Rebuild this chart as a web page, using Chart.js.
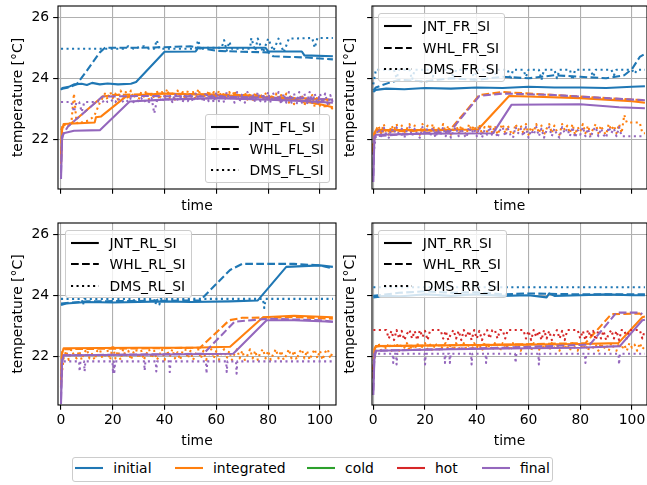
<!DOCTYPE html>
<html><head><meta charset="utf-8">
<script src="https://cdn.jsdelivr.net/npm/chart.js@4.4.0/dist/chart.umd.min.js"></script>
<style>
body{margin:0;width:647px;height:485px;overflow:hidden;background:#fff;font-family:"DejaVu Sans",sans-serif;position:relative;}
canvas{position:absolute;}
.lg{position:absolute;border:1px solid #cccccc;border-radius:3px;background:rgba(255,255,255,0.8);box-sizing:border-box;}
.lt{position:absolute;font-size:13.9px;line-height:16px;white-space:nowrap;color:#000;}
svg{position:absolute;overflow:visible;}
</style></head><body>
<script>
// ---------- labels / ticks ----------
const xTicks = [0,20,40,60,80,100];
const yTicks = [22,24,26];
const seriesNames = ['initial','integrated','cold','hot','final'];
const seriesColors = ['#1f77b4','#ff7f0e','#2ca02c','#d62728','#9467bd'];
const sensorNames = ['JNT','WHL','DMS'];
const cornerNames = ['FL','FR','RL','RR'];
const xTitle = 'time';
const yTitle = 'temperature [°C]';

// shared time grid (1 unit) for the noisy sensor traces
const tGrid = [0,1,2,3,4,5,6,7,8,9,10,11,12,13,14,15,16,17,18,19,
  20,21,22,23,24,25,26,27,28,29,30,31,32,33,34,35,36,37,38,39,
  40,41,42,43,44,45,46,47,48,49,50,51,52,53,54,55,56,57,58,59,
  60,61,62,63,64,65,66,67,68,69,70,71,72,73,74,75,76,77,78,79,
  80,81,82,83,84,85,86,87,88,89,90,91,92,93,94,95,96,97,98,99,
  100,101,102,103,104,105];

// ---------- FL ----------
const FL_initial_JNT = [[0,23.62],[0.5,23.68],[3,23.72],[5,23.8],[8,23.82],[10,23.78],[12,23.85],[15,23.8],[18,23.83],[22,23.8],[27,23.82],[29,23.88],[40,24.87],[52,24.88],[53,25.0],[79,25.0],[80,24.88],[93,24.88],[94,24.75],[105,24.72]];
const FL_initial_WHL = [[0,23.65],[3,23.7],[6,23.8],[10,24.25],[15,24.85],[17,25.0],[30,25.0],[40,25.02],[50,25.05],[55,24.98],[60,24.9],[70,24.87],[80,24.85],[82,24.72],[95,24.68],[105,24.62]];
const FL_initial_DMS = [[0,24.97],[24,24.97],[26,25.05],[28,24.97],[32,25.05],[34,24.97],[36,24.97],[37,25.25],[38,24.97],[52,24.97],[53,25.25],[54,24.9],[55,25.0],[62,25.0],[63,25.25],[64,24.9],[65,25.2],[66,24.97],[73,24.97],[73.5,25.32],[75,24.9],[76,25.3],[78,24.85],[80,25.3],[82,24.9],[84,25.3],[86,24.85],[88,25.3],[97,25.32],[98,25.0],[99,25.32],[105,25.32]];
const FL_integrated_JNT = [[0,21.2],[0.4,22.3],[1,22.5],[13,22.55],[13.5,22.72],[15.5,22.75],[25,23.4],[30,23.45],[40,23.5],[60,23.45],[75,23.4],[90,23.3],[100,23.15],[105,23.05]];
const FL_integrated_WHL = [[0,21.5],[0.4,22.4],[3,22.45],[16,23.4],[20,23.45],[40,23.5],[70,23.45],[90,23.35],[105,23.3]];
const FL_integrated_DMS = [22.3,22.45,22.5,22.5,22.55,23.5,22.55,22.5,22.55,22.6,
  22.6,22.65,22.7,22.8,23.0,23.2,23.35,23.5,23.3,23.55,
  23.35,23.5,23.3,23.6,23.4,23.55,23.3,23.6,23.35,23.5,
  23.3,23.55,23.4,23.6,23.3,23.5,23.35,23.6,23.3,23.55,
  23.4,23.65,23.35,23.5,23.3,23.6,23.4,23.55,23.3,23.6,
  23.35,23.55,23.3,23.65,23.4,23.5,23.3,23.6,23.35,23.55,
  23.3,23.6,23.4,23.5,23.3,23.55,23.35,23.6,23.3,23.5,
  23.35,23.55,23.3,23.5,23.25,23.55,23.35,23.5,23.3,23.5,
  23.25,23.45,23.3,23.5,23.2,23.45,23.3,23.5,23.2,23.45,
  23.15,23.4,23.25,23.45,23.1,23.4,23.2,23.45,23.05,23.4,
  23.1,23.35,23.0,23.3,23.05,23.0];
const FL_final_JNT = [[0,20.7],[0.4,22.0],[1,22.2],[5,22.28],[15,22.3],[26.5,23.24],[40,23.3],[60,23.35],[80,23.3],[95,23.25],[105,23.2]];
const FL_final_WHL = [[0,20.9],[0.4,22.1],[2.7,22.42],[16,23.4],[30,23.42],[60,23.4],[90,23.35],[105,23.3]];
const FL_final_DMS = [23.22,23.22,23.22,23.22,23.22,22.9,23.22,23.22,22.9,23.22,
  23.22,23.22,23.22,23.22,23.25,23.22,23.22,23.3,23.22,23.22,
  23.3,23.22,23.35,23.22,23.25,23.3,23.22,23.35,23.22,23.3,
  23.25,23.35,23.22,23.3,23.22,23.35,22.85,23.25,23.35,23.22,
  23.4,23.25,23.45,23.22,23.5,23.3,23.4,23.22,23.5,23.25,
  23.45,23.22,23.5,23.3,23.45,23.22,23.55,23.25,23.5,23.2,
  23.55,23.25,23.5,23.2,23.55,23.3,23.45,23.2,23.55,23.25,
  23.5,23.2,23.55,23.3,23.5,23.2,23.55,23.25,23.5,23.2,
  23.55,23.2,23.5,23.25,23.55,23.15,23.5,23.2,23.55,23.2,
  23.5,23.15,23.55,23.2,23.5,23.15,23.55,23.2,23.5,23.15,
  23.5,23.2,23.5,23.15,23.45,23.2];

// ---------- FR ----------
const FR_initial_JNT = [[0,23.55],[1,23.62],[5,23.66],[12,23.64],[20,23.68],[30,23.66],[40,23.7],[50,23.68],[60,23.72],[70,23.7],[80,23.7],[90,23.68],[100,23.72],[105,23.74]];
const FR_initial_WHL = [[0,23.6],[1,23.7],[6,23.85],[10,23.95],[20,23.9],[30,24.0],[40,23.95],[50,24.05],[60,24.0],[70,24.1],[80,24.05],[90,24.0],[97,24.1],[100,24.3],[103,24.7],[105,24.8]];
const FR_initial_DMS = [[0,23.8],[1,24.28],[8,24.28],[9,24.0],[10,24.28],[14,24.28],[15,23.95],[16,24.28],[22,24.28],[23,24.05],[24,24.28],[30,24.28],[31,24.0],[32,24.28],[38,24.28],[39,23.95],[40,24.28],[46,24.28],[47,24.1],[48,24.28],[52,24.28],[53,23.95],[54,24.28],[58,24.28],[59,24.05],[60,24.28],[64,24.28],[65,23.95],[66,24.28],[70,24.28],[71,24.0],[72,24.28],[76,24.28],[77,23.95],[78,24.28],[84,24.28],[85,24.05],[86,24.28],[92,24.28],[93,24.1],[94,24.28],[100,24.28],[101,24.15],[102,24.28],[105,24.28]];
const FR_integrated_JNT = [[0,21.5],[0.4,22.2],[1,22.3],[20,22.3],[40.5,22.32],[52.5,23.42],[60,23.4],[80,23.35],[100,23.25],[105,23.2]];
const FR_integrated_WHL = [[0,21.6],[0.4,22.25],[29.6,22.3],[41,23.45],[50,23.55],[70,23.45],[90,23.35],[105,23.28]];
const FR_integrated_DMS = [21.8,22.3,22.45,22.2,22.5,22.25,22.15,22.45,22.3,22.5,
  22.2,22.45,22.15,22.35,22.5,22.2,22.45,22.25,22.15,22.5,
  22.3,22.45,22.2,22.5,22.15,22.4,22.25,22.5,22.2,22.45,
  22.15,22.35,22.5,22.2,22.45,22.25,22.15,22.5,22.3,22.45,
  22.2,22.5,22.15,22.4,22.25,22.5,22.2,22.45,22.15,22.35,
  22.5,22.2,22.45,22.25,22.15,22.5,22.3,22.45,22.2,22.5,
  22.15,22.4,22.25,22.5,22.2,22.45,22.15,22.35,22.5,22.2,
  22.45,22.25,22.15,22.5,22.3,22.45,22.2,22.5,22.15,22.4,
  22.25,22.5,22.2,22.45,22.15,22.35,22.5,22.2,22.45,22.25,
  22.15,22.5,22.3,22.45,22.2,22.5,22.2,22.8,22.55,22.55,
  22.55,22.55,22.55,22.55,22.2,22.2];
const FR_final_JNT = [[0,20.6],[0.4,22.0],[1,22.15],[20,22.18],[46.3,22.2],[53.4,23.13],[80,23.15],[95,23.05],[105,23.02]];
const FR_final_WHL = [[0,20.8],[0.4,22.1],[29.6,22.25],[41,23.42],[50,23.5],[70,23.45],[90,23.35],[105,23.28]];
const FR_final_DMS = [21.5,22.1,22.35,22.1,22.4,22.15,22.05,22.35,22.2,22.4,
  22.1,22.35,22.05,22.3,22.4,22.1,22.35,22.15,22.05,22.4,
  22.2,22.35,22.1,22.4,22.05,22.3,22.15,22.4,22.1,22.35,
  22.05,22.3,22.4,22.1,22.35,22.15,22.05,22.4,22.2,22.35,
  22.1,22.4,22.05,22.3,22.15,22.4,22.1,22.35,22.05,22.3,
  22.4,22.1,22.35,22.15,22.05,22.4,22.2,22.35,22.1,22.4,
  22.05,22.3,22.15,22.4,22.1,22.35,22.05,22.3,22.4,22.1,
  22.35,22.15,22.05,22.4,22.2,22.35,22.1,22.4,22.05,22.3,
  22.15,22.4,22.1,22.35,22.05,22.3,22.4,22.1,22.35,22.15,
  22.05,22.4,22.2,22.35,22.1,22.4,22.1,22.1,22.1,22.1,
  22.1,22.1,22.1,22.1,22.1,22.1];

// ---------- RL ----------
const RL_initial_JNT = [[0,23.7],[2,23.75],[10,23.8],[20,23.78],[30,23.8],[40,23.82],[50,23.8],[65,23.82],[76,23.85],[87,24.95],[100,25.0],[105,24.95]];
const RL_initial_WHL = [[0,23.75],[10,23.82],[53.7,23.85],[65.3,24.85],[70,25.05],[90,25.05],[100,25.0],[105,24.9]];
const RL_initial_DMS = [[0,23.9],[8,23.9],[8.5,23.7],[9,23.9],[28,23.9],[28.5,23.75],[29,23.9],[36,23.9],[36.5,23.72],[37,23.9],[38,23.72],[38.5,23.9],[78,23.9],[78.5,23.6],[79,23.9],[105,23.9]];
const RL_integrated_JNT = [[0,21.0],[0.4,22.1],[1,22.28],[30,22.3],[50,22.3],[65.3,22.33],[78,23.3],[90,23.35],[105,23.3]];
const RL_integrated_WHL = [[0,21.2],[0.4,22.15],[1,22.25],[53.7,22.3],[65,23.2],[70,23.28],[90,23.3],[105,23.25]];
const RL_integrated_DMS = [21.2,21.95,22.2,21.9,22.25,22.05,21.95,22.2,21.9,22.15,
  22.25,21.95,22.1,21.9,22.2,22.25,21.95,22.05,22.2,21.9,
  22.4,21.95,22.2,21.9,22.25,22.0,22.2,21.9,22.15,22.25,
  21.95,22.2,21.9,22.1,22.25,21.95,22.2,21.9,22.05,22.25,
  21.9,22.2,22.0,22.25,21.95,22.15,21.9,22.2,22.25,21.95,
  22.2,21.9,22.1,22.25,21.95,22.2,21.9,22.05,22.25,21.95,
  22.2,21.9,22.15,22.25,21.95,22.2,21.9,22.1,22.25,21.95,
  22.2,21.9,22.05,22.25,21.95,22.2,21.9,22.15,22.25,21.95,
  22.2,21.9,22.1,22.25,21.95,22.2,21.9,22.05,22.25,21.95,
  22.2,21.9,22.15,22.25,21.95,22.2,21.9,22.1,22.25,21.95,
  22.2,21.9,22.15,22.25,21.95,22.2];
const RL_final_JNT = [[0,20.45],[0.4,21.8],[1,22.05],[30,22.07],[66.5,22.1],[79.4,23.2],[90,23.2],[105,23.15]];
const RL_final_WHL = [[0,20.6],[0.4,21.9],[1,22.05],[55,22.1],[67,23.15],[80,23.25],[100,23.2],[105,23.15]];
const RL_final_DMS = [[0,21.0],[0.4,21.85],[7,21.85],[7.2,21.52],[7.5,21.85],[8.9,21.85],[9.1,21.52],[9.4,21.85],[19.9,21.85],[20.1,21.45],[20.4,21.85],[20.6,21.5],[20.9,21.85],[32.1,21.85],[32.3,21.55],[32.6,21.85],[36.6,21.85],[36.8,21.52],[37.1,21.85],[41.8,21.85],[42,21.5],[42.3,21.85],[56,21.85],[56.2,21.45],[56.5,21.85],[63.8,21.85],[64,21.5],[64.3,21.85],[67.6,21.85],[67.8,21.45],[68.1,21.85],[105,21.85]];

// ---------- RR ----------
const RR_initial_JNT = [[0,23.95],[5,24.0],[10,23.98],[20,24.05],[30,24.0],[40,24.05],[50,24.0],[60,24.02],[67,23.95],[68,24.08],[70,24.0],[80,24.02],[90,24.05],[100,24.02],[105,24.02]];
const RR_initial_WHL = [[0,24.0],[10,24.1],[20,24.15],[30,24.1],[40,24.12],[50,24.05],[60,24.08],[80,24.05],[105,24.05]];
const RR_initial_DMS = [[0,24.28],[105,24.28]];
const RR_integrated_JNT = [[0,21.3],[0.4,22.2],[1,22.35],[30,22.38],[60,22.4],[80,22.42],[94.7,22.45],[104,23.3],[105,23.32]];
const RR_integrated_WHL = [[0,21.5],[0.4,22.25],[1,22.35],[50,22.4],[82,22.45],[92,23.4],[103,23.42],[104,23.35]];
const RR_integrated_DMS = [21.6,22.3,22.45,22.2,22.4,22.25,22.45,22.2,22.35,22.45,
  22.2,22.4,22.3,22.45,22.2,22.4,22.25,22.45,22.2,22.35,
  22.45,22.25,22.4,22.2,22.45,22.3,22.2,22.4,22.45,22.25,
  22.4,22.2,22.45,22.3,22.2,22.45,22.25,22.4,22.2,22.45,
  22.3,22.4,22.2,22.45,22.25,22.4,22.2,22.45,22.3,22.2,
  22.45,22.25,22.4,22.2,22.45,22.3,22.4,22.2,22.45,22.25,
  22.4,22.2,22.45,22.3,22.2,22.45,22.25,22.4,22.2,22.45,
  22.3,22.4,22.2,22.45,22.25,22.4,22.2,22.45,22.3,22.2,
  22.45,22.25,22.4,22.2,22.45,22.3,22.4,22.2,22.45,22.25,
  22.4,22.2,22.45,22.3,22.2,22.45,22.25,22.4,22.2,22.45,
  22.3,22.4,22.2,22.45,22.25,22.35];
const RR_hot_DMS = [22.88,22.88,22.88,22.88,22.88,22.88,22.6,22.85,22.55,22.88,
  22.6,22.85,22.55,22.75,22.88,22.6,22.85,22.55,22.88,22.65,
  22.85,22.55,22.88,22.88,22.88,22.88,22.88,22.6,22.85,22.55,
  22.75,22.88,22.6,22.85,22.55,22.88,22.65,22.85,22.55,22.88,
  22.6,22.85,22.55,22.75,22.88,22.6,22.88,22.88,22.6,22.88,
  22.88,22.6,22.88,22.88,22.88,22.88,22.88,22.88,22.88,22.6,
  22.85,22.55,22.88,22.65,22.85,22.55,22.88,22.6,22.85,22.55,
  22.75,22.88,22.6,22.85,22.55,22.88,22.88,22.88,22.88,22.88,
  22.6,22.85,22.55,22.88,22.65,22.85,22.55,22.88,22.6,22.85,
  22.55,22.75,22.88,22.6,22.85,22.55,22.88,22.88,22.6,22.88,
  22.88,22.88,22.88,22.88,22.6,22.88];
const RR_final_JNT = [[0,20.75],[0.4,21.9],[1,22.2],[30,22.25],[60,22.28],[80,22.3],[95.3,22.35],[104,23.2],[105,23.22]];
const RR_final_WHL = [[0,20.9],[0.4,22.0],[1,22.2],[50,22.3],[83.7,22.4],[94,23.45],[103,23.45],[104,23.4]];
const RR_final_DMS = [[0,21.5],[0.4,22.1],[7.5,22.1],[7.7,21.8],[8,22.1],[8.8,22.1],[9,21.75],[9.3,22.1],[19.8,22.1],[20,21.75],[20.3,22.1],[27.5,22.1],[27.7,21.8],[28,22.1],[29.4,22.1],[29.6,21.8],[29.9,22.1],[37.8,22.1],[38,21.75],[38.3,22.1],[43.4,22.1],[43.6,21.8],[43.9,22.1],[54.8,22.1],[55,21.8],[55.3,22.1],[63.8,22.1],[64,21.75],[64.3,22.1],[81.8,22.1],[82,21.8],[82.3,22.1],[94.8,22.1],[95,21.75],[95.3,22.1],[105,22.1]];

// ---------- build ----------
const pairs = a => a.map(p => ({x:p[0], y:p[1]}));
const onGrid = v => tGrid.map((t,i) => ({x:t, y:v[i]}));
const LW = 2.08;
const dashFor = {JNT:[], WHL:[7.7,3.33], DMS:[2.08,3.44]};
const colorOf = name => seriesColors[seriesNames.indexOf(name)];

const panelSeries = {
  FL: [['initial','JNT',pairs(FL_initial_JNT)],['initial','WHL',pairs(FL_initial_WHL)],['initial','DMS',pairs(FL_initial_DMS)],
       ['integrated','JNT',pairs(FL_integrated_JNT)],['integrated','WHL',pairs(FL_integrated_WHL)],['integrated','DMS',onGrid(FL_integrated_DMS)],
       ['final','JNT',pairs(FL_final_JNT)],['final','WHL',pairs(FL_final_WHL)],['final','DMS',onGrid(FL_final_DMS)]],
  FR: [['initial','JNT',pairs(FR_initial_JNT)],['initial','WHL',pairs(FR_initial_WHL)],['initial','DMS',pairs(FR_initial_DMS)],
       ['integrated','JNT',pairs(FR_integrated_JNT)],['integrated','WHL',pairs(FR_integrated_WHL)],['integrated','DMS',onGrid(FR_integrated_DMS)],
       ['final','JNT',pairs(FR_final_JNT)],['final','WHL',pairs(FR_final_WHL)],['final','DMS',onGrid(FR_final_DMS)]],
  RL: [['initial','JNT',pairs(RL_initial_JNT)],['initial','WHL',pairs(RL_initial_WHL)],['initial','DMS',pairs(RL_initial_DMS)],
       ['integrated','JNT',pairs(RL_integrated_JNT)],['integrated','WHL',pairs(RL_integrated_WHL)],['integrated','DMS',onGrid(RL_integrated_DMS)],
       ['final','JNT',pairs(RL_final_JNT)],['final','WHL',pairs(RL_final_WHL)],['final','DMS',pairs(RL_final_DMS)]],
  RR: [['initial','JNT',pairs(RR_initial_JNT)],['initial','WHL',pairs(RR_initial_WHL)],['initial','DMS',pairs(RR_initial_DMS)],
       ['integrated','JNT',pairs(RR_integrated_JNT)],['integrated','WHL',pairs(RR_integrated_WHL)],['integrated','DMS',onGrid(RR_integrated_DMS)],
       ['hot','DMS',onGrid(RR_hot_DMS)],
       ['final','JNT',pairs(RR_final_JNT)],['final','WHL',pairs(RR_final_WHL)],['final','DMS',pairs(RR_final_DMS)]]
};

const panels = [
  {id:'FL', left:0,   top:0,   w:340, h:218, pad:{left:0,top:6,right:4,bottom:0}, yW:58, xH:29, xmin:-1.16, xmax:106.2, ymin:20.37, ymax:26.37, showX:false, showY:true,  yTP:9.7, xTP:3.5},
  {id:'FR', left:340, top:0,   w:307, h:218, pad:{left:0,top:6,right:0,bottom:0}, yW:32, xH:29, xmin:-0.5,  xmax:105.8, ymin:20.37, ymax:26.37, showX:false, showY:false, yTP:2.2, xTP:3.5},
  {id:'RL', left:0,   top:218, w:340, h:232, pad:{left:0,top:5,right:4,bottom:0}, yW:58, xH:45, xmin:-1.16, xmax:106.2, ymin:20.42, ymax:26.39, showX:true,  showY:true,  yTP:9.7, xTP:0.5},
  {id:'RR', left:340, top:218, w:307, h:232, pad:{left:0,top:5,right:0,bottom:0}, yW:32, xH:45, xmin:-0.5,  xmax:105.8, ymin:20.42, ymax:26.39, showX:true,  showY:false, yTP:2.2, xTP:0.5}
];

Chart.defaults.font.family = 'DejaVu Sans';
Chart.defaults.font.size = 13.9;
Chart.defaults.color = '#000';

const spines = {id:'spines', afterDatasetsDraw(chart){
  const {ctx, chartArea:a} = chart;
  ctx.save(); ctx.strokeStyle = '#000'; ctx.lineWidth = 1.1;
  ctx.strokeRect(a.left, a.top, a.right - a.left, a.bottom - a.top);
  ctx.restore();
}};

const gridOpts = {color:'#b0b0b0', lineWidth:1.1, tickColor:'#000', tickWidth:1.1, tickLength:4.86, drawTicks:true, drawOnChartArea:true};
const titleFont = {family:'DejaVu Sans', size:13.9};

panels.forEach(p => {
  const cv = document.createElement('canvas');
  cv.width = p.w; cv.height = p.h;
  cv.style.left = p.left + 'px'; cv.style.top = p.top + 'px';
  cv.style.width = p.w + 'px'; cv.style.height = p.h + 'px';
  document.body.appendChild(cv);
  const ds = panelSeries[p.id].map(([s, sensor, data]) => ({
    label: sensor + '_' + p.id + '_SI ' + s,
    data, borderColor: colorOf(s), backgroundColor: colorOf(s),
    borderWidth: LW, borderDash: dashFor[sensor], pointRadius: 0, fill: false, tension: 0,
    borderCapStyle: 'butt', borderJoinStyle: 'round'
  })).reverse();
  new Chart(cv, {
    type: 'line',
    data: {datasets: ds},
    options: {
      responsive: false, animation: false, devicePixelRatio: 1,
      layout: {padding: p.pad},
      plugins: {legend: {display: false}, tooltip: {enabled: false}},
      scales: {
        x: {type: 'linear', min: p.xmin, max: p.xmax,
            afterBuildTicks: s => { s.ticks = xTicks.map(v => ({value: v})); },
            afterFit: s => { s.height = p.xH; s.paddingLeft = 0; s.paddingRight = 0; },
            grid: gridOpts, border: {display: false},
            ticks: {display: p.showX, color: '#000', padding: 2.5, maxRotation: 0, autoSkip: false, callback: v => String(v)},
            title: {display: true, text: xTitle, color: '#000', font: titleFont, padding: {top: 0, bottom: p.xTP}}},
        y: {type: 'linear', min: p.ymin, max: p.ymax,
            afterBuildTicks: s => { s.ticks = yTicks.map(v => ({value: v})); },
            afterFit: s => { s.width = p.yW; s.paddingTop = 0; s.paddingBottom = 0; },
            grid: gridOpts, border: {display: false},
            ticks: {display: p.showY, color: '#000', padding: 4, callback: v => String(v)},
            title: {display: true, text: yTitle, color: '#000', font: titleFont, padding: {top: p.yTP, bottom: 0}}}
      }
    },
    plugins: [spines]
  });
});

// ---------- legends (HTML) ----------
function svgLine(parent, x, y, len, color, dash){
  const ns = 'http://www.w3.org/2000/svg';
  const s = document.createElementNS(ns, 'svg');
  s.setAttribute('width', len); s.setAttribute('height', 4);
  s.style.left = x + 'px'; s.style.top = (y - 2) + 'px';
  const l = document.createElementNS(ns, 'line');
  l.setAttribute('x1', 0); l.setAttribute('x2', len); l.setAttribute('y1', 2); l.setAttribute('y2', 2);
  l.setAttribute('stroke', color); l.setAttribute('stroke-width', LW);
  if (dash.length) l.setAttribute('stroke-dasharray', dash.join(','));
  s.appendChild(l); parent.appendChild(s);
}
function text(parent, x, y, str){
  const t = document.createElement('div');
  t.className = 'lt'; t.textContent = str;
  t.style.left = x + 'px'; t.style.top = (y - 7.8) + 'px';
  parent.appendChild(t);
}
const innerLegends = [
  {left:205,   top:114.3, w:125},
  {left:378.3, top:13.3,  w:126.7},
  {left:65,    top:230,   w:126.5},
  {left:378.3, top:230,   w:128.4}
];
const rowOffsets = [12.8, 34.2, 55.6];
cornerNames.forEach((c, i) => {
  const L = innerLegends[i];
  const box = document.createElement('div');
  box.className = 'lg';
  box.style.left = L.left + 'px'; box.style.top = L.top + 'px';
  box.style.width = L.w + 'px'; box.style.height = '68.4px';
  document.body.appendChild(box);
  sensorNames.forEach((s, j) => {
    const y = L.top + rowOffsets[j];
    svgLine(document.body, L.left + 5.56, y, 27.8, '#000', dashFor[s]);
    text(document.body, L.left + 44.5, y, s + '_' + c + '_SI');
  });
});
// bottom legend
const bl = document.createElement('div');
bl.className = 'lg';
bl.style.left = '71.7px'; bl.style.top = '456.7px'; bl.style.width = '481.6px'; bl.style.height = '25px';
document.body.appendChild(bl);
const blLineX = [75, 175, 306.7, 396.7, 481.7];
const blTextX = [113.3, 213, 345, 435, 520];
seriesNames.forEach((n, i) => {
  svgLine(document.body, blLineX[i], 468.2, 28, seriesColors[i], []);
  text(document.body, blTextX[i], 468.2, n);
});
</script>
</body></html>
